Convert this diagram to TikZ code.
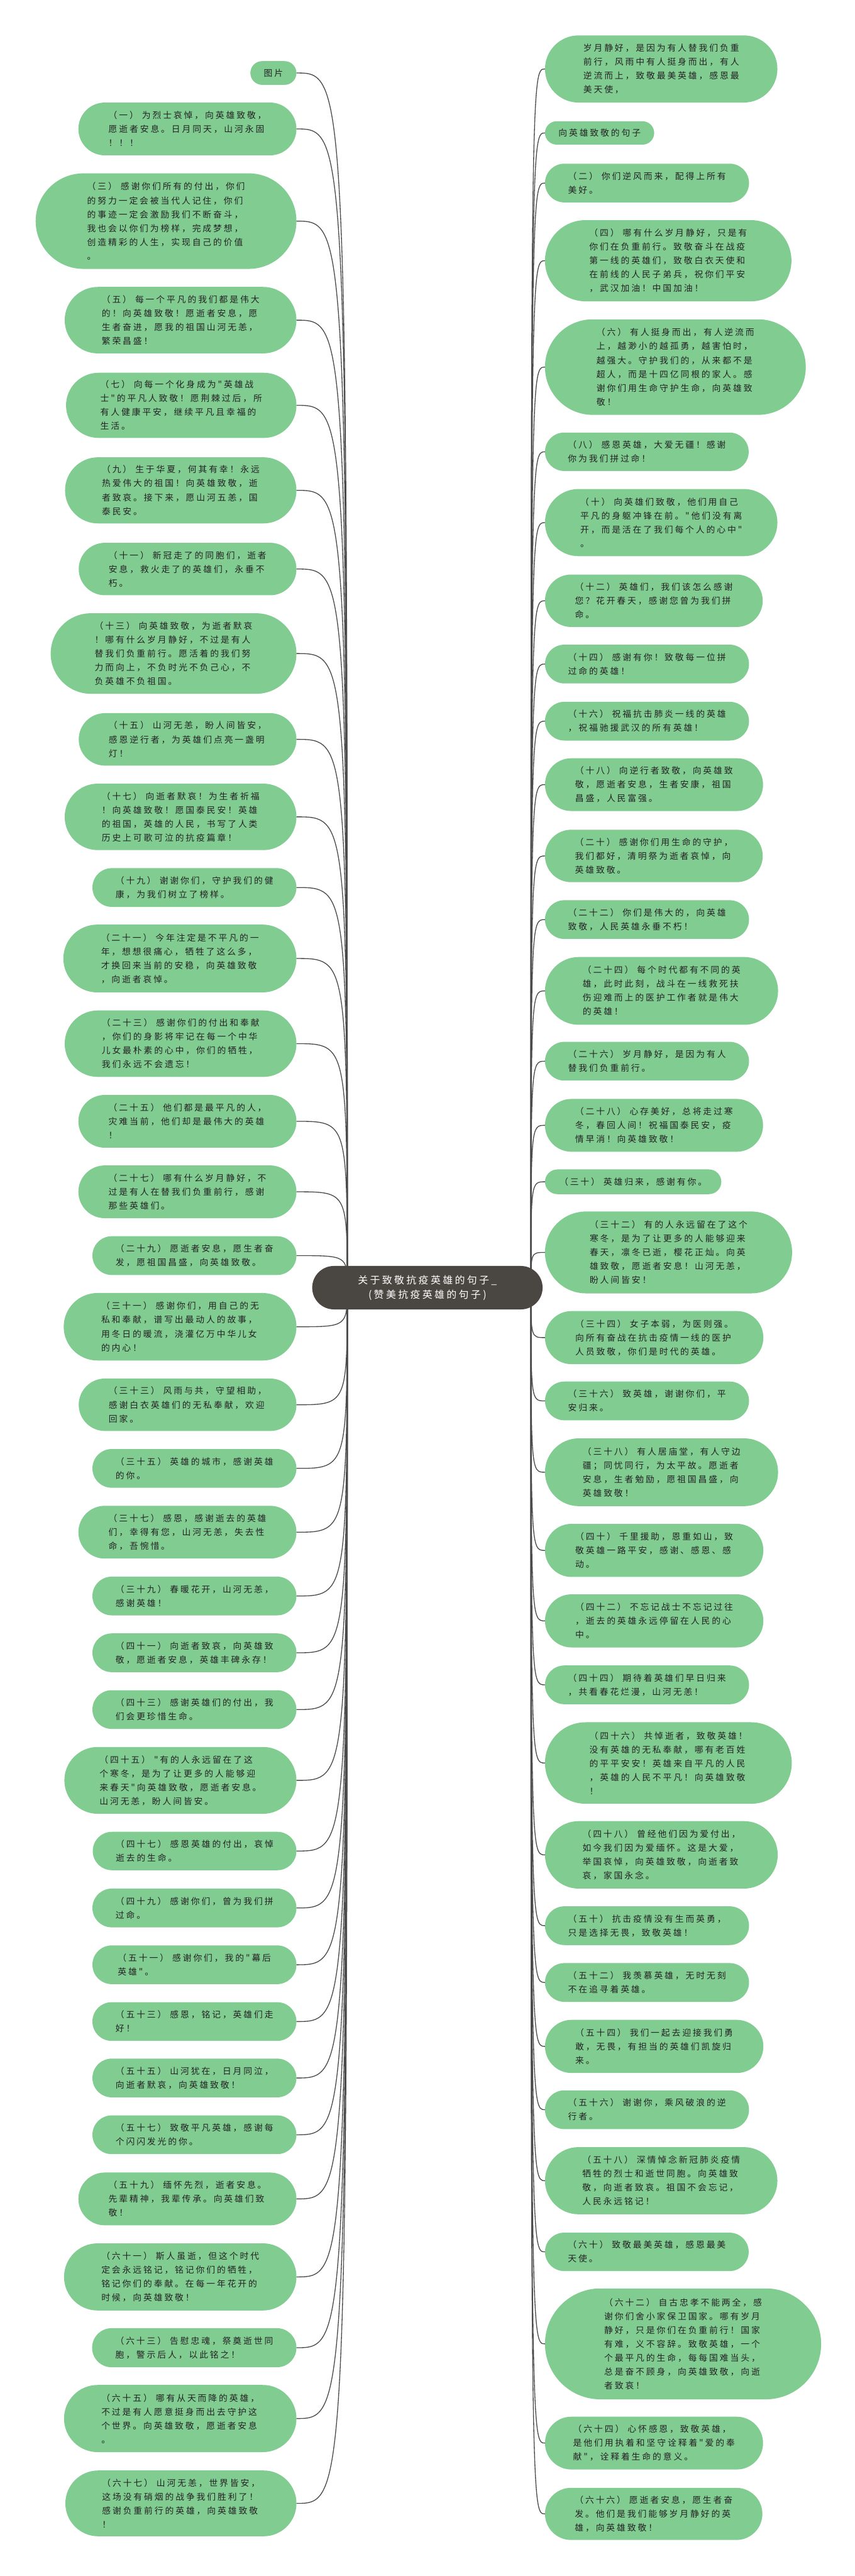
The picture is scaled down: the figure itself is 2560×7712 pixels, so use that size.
\documentclass[tikz,border=0pt]{standalone}
\usepackage{fontspec}
\setmainfont{Noto Sans CJK SC}
\newfontfamily\cjk[LetterSpace=21]{Noto Sans CJK SC}
\usetikzlibrary{shapes.misc}
\definecolor{leafgreen}{RGB}{129,204,145}
\definecolor{rootdark}{RGB}{74,70,66}
\definecolor{linegray}{RGB}{75,75,75}
\definecolor{txt}{RGB}{35,35,35}
\tikzset{
  leaf/.style={rounded rectangle, fill=leafgreen, draw=none, inner sep=0pt, align=left,
    font=\cjk\fontsize{26}{41.5}\selectfont, text=txt},
  conn/.style={draw=linegray, line width=2.5pt},
  rootbox/.style={rounded rectangle, fill=rootdark, draw=none, inner sep=0pt, align=center,
    font=\cjk\fontsize{30}{44}\selectfont, text=white}
}
\newcommand\LeftLeafW[5]{%
  \pgfmathsetmacro\hgt{#3-#2}%
  \pgfmathsetmacro\yc{(#2+#3)/2}%
  \node[leaf, minimum height=\hgt pt, minimum width=#4pt, anchor=east] (#1) at (888,\yc) {#5};
  \draw[conn] (rl) .. controls (rl |- #1.east) and (rl |- #1.east) .. (#1.east);
}
\newcommand\LeftLeaf[4]{\pgfmathsetmacro\wid{495+#3-#2}\LeftLeafW{#1}{#2}{#3}{\wid}{#4}}
\newcommand\RightLeafW[5]{%
  \pgfmathsetmacro\hgt{#3-#2}%
  \pgfmathsetmacro\yc{(#2+#3)/2}%
  \node[leaf, minimum height=\hgt pt, minimum width=#4pt, anchor=west] (#1) at (1632,\yc) {#5};
  \draw[conn] (rr) .. controls (rr |- #1.west) and (rr |- #1.west) .. (#1.west);
}
\newcommand\RightLeaf[4]{\pgfmathsetmacro\wid{495+#3-#2}\RightLeafW{#1}{#2}{#3}{\wid}{#4}}
\begin{document}
\begin{tikzpicture}[x=1pt,y=-1pt]
\useasboundingbox (0,0) rectangle (2560,7712);
\fill[white] (0,0) rectangle (2560,7712);
\coordinate (rl) at (1040,3855);
\coordinate (rr) at (1590,3855);
% left column
\LeftLeafW{L0}{183}{254}{138}{图片}
\LeftLeaf{L1}{307}{465}{（一） 为烈士哀悼，向英雄致敬，\\愿逝者安息。日月同天，山河永固\\！！！}
\LeftLeaf{L3}{519}{805}{（三） 感谢你们所有的付出，你们\\的努力一定会被当代人记住，你们\\的事迹一定会激励我们不断奋斗，\\我也会以你们为榜样，完成梦想，\\创造精彩的人生，实现自己的价值\\。}
\LeftLeaf{L5}{859}{1058}{（五） 每一个平凡的我们都是伟大\\的！向英雄致敬！愿逝者安息，愿\\生者奋进，愿我的祖国山河无恙，\\繁荣昌盛！}
\LeftLeaf{L7}{1116}{1311}{（七） 向每一个化身成为"英雄战\\士"的平凡人致敬！愿荆棘过后，所\\有人健康平安，继续平凡且幸福的\\生活。}
\LeftLeaf{L9}{1369}{1567}{（九） 生于华夏，何其有幸！永远\\热爱伟大的祖国！向英雄致敬，逝\\者致哀。接下来，愿山河五恙，国\\泰民安。}
\LeftLeaf{L11}{1625}{1782}{（十一） 新冠走了的同胞们，逝者\\安息，救火走了的英雄们，永垂不\\朽。}
\LeftLeaf{L13}{1836}{2077}{（十三） 向英雄致敬，为逝者默哀\\！哪有什么岁月静好，不过是有人\\替我们负重前行。愿活着的我们努\\力而向上，不负时光不负己心，不\\负英雄不负祖国。}
\LeftLeaf{L15}{2135}{2292}{（十五） 山河无恙，盼人间皆安，\\感恩逆行者，为英雄们点亮一盏明\\灯！}
\LeftLeaf{L17}{2346}{2545}{（十七） 向逝者默哀！为生者祈福\\！向英雄致敬！愿国泰民安！英雄\\的祖国，英雄的人民，书写了人类\\历史上可歌可泣的抗疫篇章！}
\LeftLeaf{L19}{2599}{2715}{（十九） 谢谢你们，守护我们的健\\康，为我们树立了榜样。}
\LeftLeaf{L21}{2768}{2971}{（二十一） 今年注定是不平凡的一\\年，想想很痛心，牺牲了这么多，\\才换回来当前的安稳，向英雄致敬\\，向逝者哀悼。}
\LeftLeaf{L23}{3025}{3224}{（二十三） 感谢你们的付出和奉献\\，你们的身影将牢记在每一个中华\\儿女最朴素的心中，你们的牺牲，\\我们永远不会遗忘！}
\LeftLeaf{L25}{3278}{3436}{（二十五） 他们都是最平凡的人，\\灾难当前，他们却是最伟大的英雄\\！}
\LeftLeaf{L27}{3489}{3647}{（二十七） 哪有什么岁月静好，不\\过是有人在替我们负重前行，感谢\\那些英雄们。}
\LeftLeaf{L29}{3701}{3817}{（二十九） 愿逝者安息，愿生者奋\\发，愿祖国昌盛，向英雄致敬。}
\LeftLeaf{L31}{3871}{4073}{（三十一） 感谢你们，用自己的无\\私和奉献，谱写出最动人的故事，\\用冬日的暖流，浇灌亿万中华儿女\\的内心！}
\LeftLeaf{L33}{4127}{4284}{（三十三） 风雨与共，守望相助，\\感谢白衣英雄们的无私奉献，欢迎\\回家。}
\LeftLeaf{L35}{4338}{4454}{（三十五） 英雄的城市，感谢英雄\\的你。}
\LeftLeaf{L37}{4508}{4666}{（三十七） 感恩，感谢逝去的英雄\\们，幸得有您，山河无恙，失去性\\命，吾惋惜。}
\LeftLeaf{L39}{4720}{4836}{（三十九） 春暖花开，山河无恙，\\感谢英雄！}
\LeftLeaf{L41}{4890}{5006}{（四十一） 向逝者致哀，向英雄致\\敬，愿逝者安息，英雄丰碑永存！}
\LeftLeaf{L43}{5060}{5176}{（四十三） 感谢英雄们的付出，我\\们会更珍惜生命。}
\LeftLeaf{L45}{5230}{5430}{（四十五） "有的人永远留在了这\\个寒冬，是为了让更多的人能够迎\\来春天"向英雄致敬，愿逝者安息。\\山河无恙，盼人间皆安。}
\LeftLeaf{L47}{5484}{5599}{（四十七） 感恩英雄的付出，哀悼\\逝去的生命。}
\LeftLeaf{L49}{5654}{5770}{（四十九） 感谢你们，曾为我们拼\\过命。}
\LeftLeaf{L51}{5824}{5940}{（五十一） 感谢你们，我的"幕后\\英雄"。}
\LeftLeaf{L53}{5994}{6110}{（五十三） 感恩，铭记，英雄们走\\好！}
\LeftLeaf{L55}{6163}{6279}{（五十五） 山河犹在，日月同泣，\\向逝者默哀，向英雄致敬！}
\LeftLeaf{L57}{6333}{6449}{（五十七） 致敬平凡英雄，感谢每\\个闪闪发光的你。}
\LeftLeaf{L59}{6504}{6662}{（五十九） 缅怀先烈，逝者安息。\\先辈精神，我辈传承。向英雄们致\\敬！}
\LeftLeaf{L61}{6716}{6917}{（六十一） 斯人虽逝，但这个时代\\定会永远铭记，铭记你们的牺牲，\\铭记你们的奉献。在每一年花开的\\时候，向英雄致敬！}
\LeftLeaf{L63}{6970}{7087}{（六十三） 告慰忠魂，祭奠逝世同\\胞，警示后人，以此铭之！}
\LeftLeaf{L65}{7140}{7341}{（六十五） 哪有从天而降的英雄，\\不过是有人愿意挺身而出去守护这\\个世界。向英雄致敬，愿逝者安息\\。}
\LeftLeaf{L67}{7396}{7593}{（六十七） 山河无恙，世界皆安，\\这场没有硝烟的战争我们胜利了！\\感谢负重前行的英雄，向英雄致敬\\！}
% right column
\RightLeaf{R0}{106}{307}{岁月静好，是因为有人替我们负重\\前行，风雨中有人挺身而出，有人\\逆流而上，致敬最美英雄，感恩最\\美天使，}
\RightLeafW{Rh}{363}{433}{327}{向英雄致敬的句子}
\RightLeaf{R2}{490}{606}{（二） 你们逆风而来，配得上所有\\美好。}
\RightLeaf{R4}{659}{902}{（四） 哪有什么岁月静好，只是有\\你们在负重前行。致敬奋斗在战疫\\第一线的英雄们，致敬白衣天使和\\在前线的人民子弟兵，祝你们平安\\，武汉加油！中国加油！}
\RightLeaf{R6}{956}{1242}{（六） 有人挺身而出，有人逆流而\\上，越渺小的越孤勇，越害怕时，\\越强大。守护我们的，从来都不是\\超人，而是十四亿同根的家人。感\\谢你们用生命守护生命，向英雄致\\敬！}
\RightLeaf{R8}{1295}{1410}{（八） 感恩英雄，大爱无疆！感谢\\你为我们拼过命！}
\RightLeaf{R10}{1464}{1665}{（十） 向英雄们致敬，他们用自己\\平凡的身躯冲锋在前。"他们没有离\\开，而是活在了我们每个人的心中"\\。}
\RightLeaf{R12}{1720}{1877}{（十二） 英雄们，我们该怎么感谢\\您？花开春天，感谢您曾为我们拼\\命。}
\RightLeaf{R14}{1930}{2046}{（十四） 感谢有你！致敬每一位拼\\过命的英雄！}
\RightLeaf{R16}{2101}{2217}{（十六） 祝福抗击肺炎一线的英雄\\，祝福驰援武汉的所有英雄！}
\RightLeaf{R18}{2270}{2428}{（十八） 向逆行者致敬，向英雄致\\敬，愿逝者安息，生者安康，祖国\\昌盛，人民富强。}
\RightLeaf{R20}{2484}{2641}{（二十） 感谢你们用生命的守护，\\我们都好，清明祭为逝者哀悼，向\\英雄致敬。}
\RightLeaf{R22}{2695}{2811}{（二十二） 你们是伟大的，向英雄\\致敬，人民英雄永垂不朽！}
\RightLeaf{R24}{2865}{3068}{（二十四） 每个时代都有不同的英\\雄，此时此刻，战斗在一线救死扶\\伤迎难而上的医护工作者就是伟大\\的英雄！}
\RightLeaf{R26}{3119}{3235}{（二十六） 岁月静好，是因为有人\\替我们负重前行。}
\RightLeaf{R28}{3290}{3448}{（二十八） 心存美好，总将走过寒\\冬，春回人间！祝福国泰民安，疫\\情早消！向英雄致敬！}
\RightLeafW{R30}{3501}{3575}{528}{（三十） 英雄归来，感谢有你。}
\RightLeaf{R32}{3627}{3872}{（三十二） 有的人永远留在了这个\\寒冬，是为了让更多的人能够迎来\\春天，凛冬已逝，樱花正灿。向英\\雄致敬，愿逝者安息！山河无恙，\\盼人间皆安！}
\RightLeaf{R34}{3925}{4084}{（三十四） 女子本弱，为医则强。\\向所有奋战在抗击疫情一线的医护\\人员致敬，你们是时代的英雄。}
\RightLeaf{R36}{4136}{4252}{（三十六） 致英雄，谢谢你们，平\\安归来。}
\RightLeaf{R38}{4306}{4509}{（三十八） 有人居庙堂，有人守边\\疆；同忧同行，为太平故。愿逝者\\安息，生者勉励，愿祖国昌盛，向\\英雄致敬！}
\RightLeaf{R40}{4562}{4721}{（四十） 千里援助，恩重如山，致\\敬英雄一路平安，感谢、感恩、感\\动。}
\RightLeaf{R42}{4773}{4932}{（四十二） 不忘记战士不忘记过往\\，逝去的英雄永远停留在人民的心\\中。}
\RightLeaf{R44}{4986}{5102}{（四十四） 期待着英雄们早日归来\\，共看春花烂漫，山河无恙！}
\RightLeaf{R46}{5156}{5400}{（四十六） 共悼逝者，致敬英雄！\\没有英雄的无私奉献，哪有老百姓\\的平平安安！英雄来自平凡的人民\\，英雄的人民不平凡！向英雄致敬\\！}
\RightLeaf{R48}{5452}{5654}{（四十八） 曾经他们因为爱付出，\\如今我们因为爱缅怀。这是大爱，\\举国哀悼，向英雄致敬，向逝者致\\哀，家国永念。}
\RightLeaf{R50}{5707}{5823}{（五十） 抗击疫情没有生而英勇，\\只是选择无畏，致敬英雄！}
\RightLeaf{R52}{5877}{5993}{（五十二） 我羡慕英雄，无时无刻\\不在追寻着英雄。}
\RightLeaf{R54}{6047}{6206}{（五十四） 我们一起去迎接我们勇\\敢，无畏，有担当的英雄们凯旋归\\来。}
\RightLeaf{R56}{6258}{6374}{（五十六） 谢谢你，乘风破浪的逆\\行者。}
\RightLeaf{R58}{6428}{6629}{（五十八） 深情悼念新冠肺炎疫情\\牺牲的烈士和逝世同胞。向英雄致\\敬，向逝者致哀。祖国不会忘记，\\人民永远铭记！}
\RightLeaf{R60}{6684}{6799}{（六十） 致敬最美英雄，感恩最美\\天使。}
\RightLeaf{R62}{6851}{7183}{（六十二） 自古忠孝不能两全，感\\谢你们舍小家保卫国家。哪有岁月\\静好，只是你们在负重前行！国家\\有难，义不容辞。致敬英雄，一个\\个最平凡的生命，每每国难当头，\\总是奋不顾身，向英雄致敬，向逝\\者致哀！}
\RightLeaf{R64}{7235}{7393}{（六十四） 心怀感恩，致敬英雄，\\是他们用执着和坚守诠释着"爱的奉\\献"，诠释着生命的意义。}
\RightLeaf{R66}{7448}{7604}{（六十六） 愿逝者安息，愿生者奋\\发。他们是我们能够岁月静好的英\\雄，向英雄致敬！}
% root
\node[rootbox, minimum width=690pt, minimum height=130pt] (root) at (1280,3855) {关于致敬抗疫英雄的句子\_\\(赞美抗疫英雄的句子)};
\end{tikzpicture}
\end{document}
